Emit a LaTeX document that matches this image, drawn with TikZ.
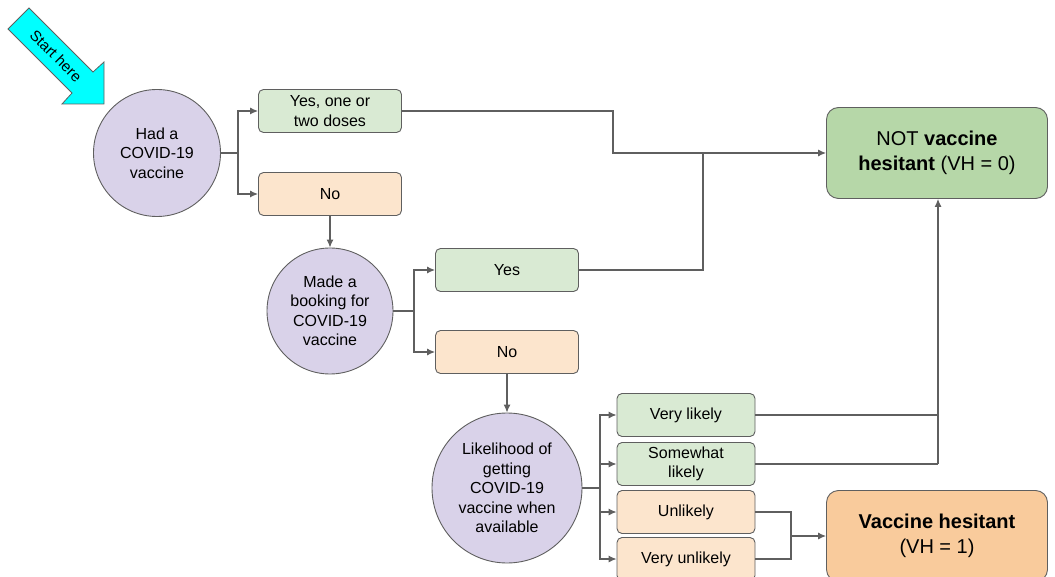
\documentclass[tikz,border=0pt]{standalone}
\usepackage{fontspec}
\setmainfont{Liberation Sans}
\usetikzlibrary{arrows.meta}
\definecolor{edge}{HTML}{5F5F5F}
\definecolor{qpurple}{HTML}{D9D2E9}
\definecolor{agreen}{HTML}{D9EAD3}
\definecolor{aorange}{HTML}{FCE5CD}
\definecolor{rgreen}{HTML}{B6D7A8}
\definecolor{rorange}{HTML}{F9CB9C}
\definecolor{startcyan}{HTML}{00FFFF}
\begin{document}
\begin{tikzpicture}[
      x=1pt,
      y=-1pt,
      font=\fontsize{16}{19.5}\selectfont,
      question/.style={circle,draw=edge,fill=qpurple,line width=0.9pt,align=center,inner sep=0pt},
      answer/.style={rectangle,rounded corners=5pt,draw=edge,line width=0.9pt,align=center,
        minimum width=143pt,minimum height=43pt,inner sep=0pt},
      yesbox/.style={answer,fill=agreen},
      nobox/.style={answer,fill=aorange},
      result/.style={rectangle,rounded corners=12pt,draw=edge,line width=0.9pt,align=center,
        minimum width=221pt,minimum height=91pt,font=\fontsize{20}{25}\selectfont},
      link/.style={draw=edge,line width=1.1pt},
      arrow/.style={link,-{Latex[length=8pt,width=7pt]}}
    ]
    \useasboundingbox (0,0) rectangle (1055,577);
    \draw [fill=startcyan,draw=edge,line width=0.8pt]
      (8,29) -- (29,8) -- (93,72) -- (104,62) -- (104,104) -- (62,104) -- (72,93) -- cycle;
    \node (start) [rotate=-45,font=\fontsize{15}{17}\selectfont] at (56,56) {Start here};
    \node (had) [question,minimum size=127pt] at (157,153) {Had a\\COVID-19\\vaccine};
    \node (dose) [yesbox] at (330,111) {Yes, one or\\two doses};
    \node (nodose) [nobox] at (330,194) {No};
    \node (booking) [question,minimum size=126pt] at (330,311) {Made a\\booking for\\COVID-19\\vaccine};
    \node (booked) [yesbox] at (507,270) {Yes};
    \node (notbooked) [nobox] at (507,352) {No};
    \node (likelihood) [question,minimum size=150pt] at (507,488)
      {Likelihood of\\getting\\COVID-19\\vaccine when\\available};
    \node (vlikely) [yesbox,minimum width=138pt] at (686,415) {Very likely};
    \node (slikely) [yesbox,minimum width=138pt] at (686,464) {Somewhat\\likely};
    \node (unlikely) [nobox,minimum width=138pt] at (686,512) {Unlikely};
    \node (vunlikely) [nobox,minimum width=138pt] at (686,559) {Very unlikely};
    \node (notvh) [result,fill=rgreen] at (937,153) {NOT \textbf{vaccine}\\\textbf{hesitant} (VH = 0)};
    \node (vh) [result,fill=rorange] at (937,536) {\textbf{Vaccine hesitant}\\(VH = 1)};

    \coordinate (fork1) at (238,153);
    \coordinate (fork2) at (414,311);
    \coordinate (fork3) at (600,488);
    \coordinate (join1) at (613,153);
    \coordinate (join2) at (703,153);
    \coordinate (join3) at (938,464);
    \coordinate (join4) at (791,536);

    \draw [link] (had) -- (fork1);
    \draw [arrow] (fork1) |- (dose);
    \draw [arrow] (fork1) |- (nodose);
    \draw [arrow] (dose) -| (join1) -- (notvh);
    \draw [link] (booked) -| (join2);
    \draw [arrow] (nodose) -- (booking);
    \draw [link] (booking) -- (fork2);
    \draw [arrow] (fork2) |- (booked);
    \draw [arrow] (fork2) |- (notbooked);
    \draw [arrow] (notbooked) -- (likelihood);
    \draw [link] (likelihood) -- (fork3);
    \draw [arrow] (fork3) |- (vlikely);
    \draw [arrow] (fork3) |- (slikely);
    \draw [arrow] (fork3) |- (unlikely);
    \draw [arrow] (fork3) |- (vunlikely);
    \draw [link] (vlikely) -| (join3);
    \draw [link] (slikely) -- (join3);
    \draw [arrow] (join3) -- (join3 |- notvh.south);
    \draw [link] (unlikely) -| (join4);
    \draw [link] (vunlikely) -| (join4);
    \draw [arrow] (join4) -- (vh);
  \end{tikzpicture}
\end{document}
